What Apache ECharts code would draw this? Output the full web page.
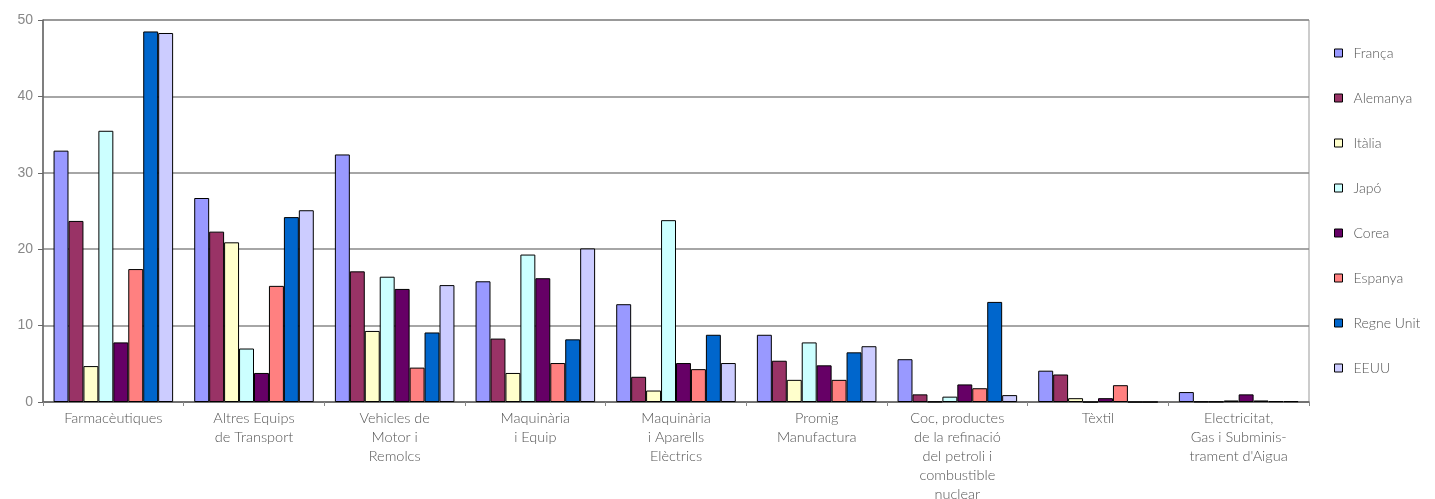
<!DOCTYPE html>
<html>
<head>
<meta charset="utf-8">
<script src="https://cdn.jsdelivr.net/npm/echarts@6/dist/echarts.min.js"></script>
<style>
html,body{margin:0;padding:0;background:#fff;}
#chart{width:1435px;height:499px;}
</style>
</head>
<body>
<div id="chart"></div>
<script>
const categories = [
  "Farmacèutiques",
  "Altres Equips\nde Transport",
  "Vehicles de\nMotor i\nRemolcs",
  "Maquinària\ni Equip",
  "Maquinària\ni Aparells\nElèctrics",
  "Promig\nManufactura",
  "Coc, productes\nde la refinació\ndel petroli i\ncombustible\nnuclear",
  "Tèxtil",
  "Electricitat,\nGas i Subminis-\ntrament d'Aigua"
];
const seriesNames = ["França","Alemanya","Itàlia","Japó","Corea","Espanya","Regne Unit","EEUU"];
const franca    = [32.9, 26.7, 32.4, 15.8, 12.8, 8.8, 5.6, 4.1, 1.3];
const alemanya  = [23.7, 22.3, 17.1, 8.3, 3.3, 5.4, 1.0, 3.6, 0.05];
const italia    = [4.7, 20.9, 9.3, 3.8, 1.5, 2.9, 0.05, 0.5, 0.05];
const japo      = [35.5, 7.0, 16.4, 19.3, 23.8, 7.8, 0.7, 0, 0.2];
const corea     = [7.8, 3.8, 14.8, 16.2, 5.1, 4.8, 2.3, 0.5, 1.0];
const espanya   = [17.4, 15.2, 4.5, 5.1, 4.3, 2.9, 1.8, 2.2, 0.2];
const regneUnit = [48.5, 24.2, 9.1, 8.2, 8.8, 6.5, 13.1, 0, 0.1];
const eeuu      = [48.3, 25.1, 15.3, 20.1, 5.1, 7.3, 0.9, 0, 0.1];
const yTicks = [0, 10, 20, 30, 40, 50];

const seriesData = [franca, alemanya, italia, japo, corea, espanya, regneUnit, eeuu];
const colors = ["#9999FF","#993366","#FFFFCC","#CCFFFF","#660066","#FF8080","#0066CC","#CCCCFF"];

const chart = echarts.init(document.getElementById('chart'));
chart.setOption({
  animation: false,
  color: colors,
  grid: { left: 43, right: 126, top: 20, bottom: 97, show: true, borderColor: '#999', borderWidth: 1, outerBoundsMode: 'none', containLabel: false },
  legend: {
    orient: 'vertical',
    left: 1329,
    top: 41,
    itemWidth: 8,
    itemHeight: 8,
    itemGap: 31,
    icon: 'rect',
    data: seriesNames,
    itemStyle: { borderColor: '#000', borderWidth: 1 },
    textStyle: { fontFamily: 'Lato', fontWeight: 300, fontSize: 14, color: '#555', lineHeight: 14, padding: [0,0,0,6] }
  },
  xAxis: {
    type: 'category',
    data: categories,
    axisLine: { lineStyle: { color: '#666', width: 1.5 } },
    axisTick: { show: true, length: 4, lineStyle: { color: '#888' } },
    axisLabel: { interval: 0, fontFamily: 'Lato', fontWeight: 300, fontSize: 14.5, color: '#555', lineHeight: 19, margin: 7 }
  },
  yAxis: {
    type: 'value',
    min: yTicks[0],
    max: yTicks[yTicks.length - 1],
    interval: 10,
    axisLine: { show: true, lineStyle: { color: '#666', width: 1.5 } },
    axisTick: { show: true, length: 5, lineStyle: { color: '#666' } },
    axisLabel: { fontFamily: 'Liberation Sans', fontSize: 14, color: '#888', margin: 10 },
    splitLine: { lineStyle: { color: '#888', width: 1.5 } }
  },
  series: seriesNames.map((name, i) => ({
    name: name,
    type: 'bar',
    data: seriesData[i],
    barGap: '0%',
    barCategoryGap: '15%',
    itemStyle: { color: colors[i], borderColor: '#000', borderWidth: 1 }
  }))
});
</script>
</body>
</html>
